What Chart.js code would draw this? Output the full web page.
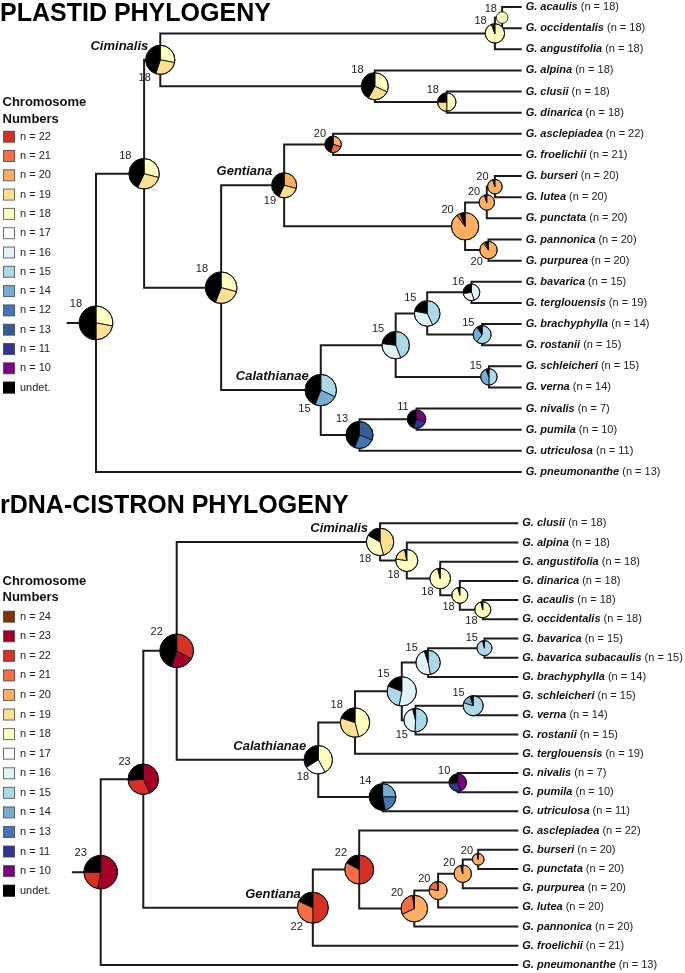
<!DOCTYPE html>
<html>
<head>
<meta charset="utf-8">
<script src="https://cdn.jsdelivr.net/npm/chart.js@4.4.1/dist/chart.umd.min.js"></script>
<style>
  html, body { margin: 0; padding: 0; background: #ffffff; }
  #wrap { position: relative; width: 685px; height: 973px; overflow: hidden; background: #fff; }
  canvas { position: absolute; left: 0; display: block; }
  #c1 { top: 0; }
  #c2 { top: 485px; }
</style>
</head>
<body>
<div id="wrap">
  <canvas id="c1" width="685" height="485"></canvas>
  <canvas id="c2" width="685" height="488"></canvas>
</div>
<script>
// ---------------- DATA: PLASTID PHYLOGENY ----------------
const plastidTitle = 'PLASTID PHYLOGENY';
const plastidTips = ['G. acaulis','G. occidentalis','G. angustifolia','G. alpina','G. clusii','G. dinarica',
  'G. asclepiadea','G. froelichii','G. burseri','G. lutea','G. punctata','G. pannonica','G. purpurea',
  'G. bavarica','G. terglouensis','G. brachyphylla','G. rostanii','G. schleicheri','G. verna',
  'G. nivalis','G. pumila','G. utriculosa','G. pneumonanthe'];
const plastidTipN = [18,18,18,18,18,18,22,21,20,20,20,20,20,15,19,14,15,15,14,7,10,11,13];
const plastidNodeIds = ['root','N1','Cim','Cim2','Aca','A1','A2','N2','Gen','G20a','G20b','G20c','G20e','G20d',
  'Cal','C15','C15b','C16','C15d','C15c','C13','C11'];
const plastidNodeChildren = [['N1',22],['Cim','N2'],['Cim2','A1'],['Aca',2],[0,1],[3,'A2'],[4,5],['Gen','Cal'],
  ['G20a','G20b'],[6,7],['G20c','G20d'],['G20e',10],[8,9],[11,12],
  ['C15','C13'],['C15b','C15c'],['C16','C15d'],[13,14],[15,16],[17,18],['C11',21],[19,20]];
const plastidNodeDepth = [0,0.113,0.151,0.937,0.954,0.655,0.824,0.294,0.442,0.557,0.867,0.918,0.937,0.922,
  0.528,0.704,0.778,0.882,0.907,0.923,0.619,0.753];
const plastidRootEdge = -0.069;
const plastidNodeState = [18,18,18,18,18,18,18,18,19,20,20,20,20,20,15,15,15,16,15,15,13,11];
// ancestral state probabilities, clockwise from 12 o'clock ('u' = undetermined)
const plastidNodeProbs = [
  [[18,0.28],[19,0.22],['u',0.50]],
  [[18,0.29],[19,0.28],['u',0.43]],
  [[18,0.28],[19,0.27],['u',0.45]],
  [[18,0.94],[19,0.02],['u',0.04]],
  [[18,1.00]],
  [[18,0.32],[19,0.26],['u',0.42]],
  [[18,0.50],[19,0.25],['u',0.25]],
  [[18,0.29],[19,0.27],['u',0.44]],
  [[20,0.29],[19,0.28],['u',0.43]],
  [[20,0.30],[21,0.25],['u',0.45]],
  [[20,0.90],[21,0.04],['u',0.06]],
  [[20,0.95],['u',0.05]],
  [[20,0.95],['u',0.05]],
  [[20,0.90],[21,0.04],['u',0.06]],
  [[15,0.32],[14,0.24],['u',0.44]],
  [[15,0.44],[16,0.33],['u',0.23]],
  [[15,0.43],[16,0.35],['u',0.22]],
  [[16,0.45],[17,0.28],['u',0.27]],
  [[15,0.60],[14,0.30],['u',0.10]],
  [[15,0.50],[14,0.44],['u',0.06]],
  [[13,0.31],[12,0.25],['u',0.44]],
  [[10,0.30],[11,0.26],['u',0.44]]
];
const plastidCladeNodes = ['Cim','Gen','Cal'];
const plastidCladeNames = ['Ciminalis','Gentiana','Calathianae'];
const plastidLegendStates = [22,21,20,19,18,17,16,15,14,12,13,11,10,'u'];

// ---------------- DATA: rDNA-CISTRON PHYLOGENY ----------------
const rdnaTitle = 'rDNA-CISTRON PHYLOGENY';
const rdnaTips = ['G. clusii','G. alpina','G. angustifolia','G. dinarica','G. acaulis','G. occidentalis',
  'G. bavarica','G. bavarica subacaulis','G. brachyphylla','G. schleicheri','G. verna','G. rostanii',
  'G. terglouensis','G. nivalis','G. pumila','G. utriculosa','G. asclepiadea','G. burseri','G. punctata',
  'G. purpurea','G. lutea','G. pannonica','G. froelichii','G. pneumonanthe'];
const rdnaTipN = [18,18,18,18,18,18,15,15,14,15,14,15,19,7,10,11,22,20,20,20,20,20,21,13];
const rdnaNodeIds = ['root','N23','N22','Cim','C2','C3','C4','C5','Cal','N18','B15','B15a','B15bav','B15r','B15sv',
  'N14','N10','Gen','N22b','P20a','P20b','P20c','P20d'];
const rdnaNodeChildren = [['N23',23],['N22','Gen'],['Cim','Cal'],[0,'C2'],[1,'C3'],[2,'C4'],[3,'C5'],[4,5],
  ['N18','N14'],['B15',12],['B15a','B15r'],['B15bav',8],[6,7],['B15sv',11],[9,10],
  ['N10',15],[13,14],['N22b',22],[16,'P20a'],['P20b',21],['P20c',20],['P20d',19],[17,18]];
const rdnaNodeDepth = [0,0.102,0.182,0.669,0.733,0.813,0.860,0.915,0.521,0.609,0.721,0.784,0.919,0.754,0.892,
  0.675,0.855,0.508,0.619,0.751,0.808,0.867,0.904];
const rdnaRootEdge = -0.069;
const rdnaNodeState = [23,23,22,18,18,18,18,18,18,18,15,15,15,15,15,14,10,22,22,20,20,20,20];
const rdnaNodeProbs = [
  [[23,0.53],[22,0.22],['u',0.25]],
  [[23,0.43],[22,0.31],['u',0.26]],
  [[22,0.33],[23,0.22],['u',0.45]],
  [[19,0.46],[18,0.37],['u',0.17]],
  [[18,0.77],[19,0.20],['u',0.03]],
  [[18,0.96],['u',0.04]],
  [[18,0.96],['u',0.04]],
  [[18,0.96],['u',0.04]],
  [[18,0.42],[17,0.24],['u',0.34]],
  [[18,0.46],[19,0.34],['u',0.20]],
  [[16,0.53],[15,0.28],['u',0.19]],
  [[15,0.47],[16,0.48],['u',0.05]],
  [[15,0.96],['u',0.04]],
  [[15,0.51],[16,0.45],['u',0.04]],
  [[15,0.80],[14,0.15],['u',0.05]],
  [[14,0.25],[13,0.22],['u',0.53]],
  [[10,0.45],[11,0.28],['u',0.27]],
  [[22,0.50],[21,0.32],['u',0.18]],
  [[22,0.50],[21,0.33],['u',0.17]],
  [[20,0.68],[21,0.30],['u',0.02]],
  [[20,0.78],[21,0.20],['u',0.02]],
  [[20,0.96],['u',0.04]],
  [[20,0.97],['u',0.03]]
];
const rdnaCladeNodes = ['Cim','Cal','Gen'];
const rdnaCladeNames = ['Ciminalis','Calathianae','Gentiana'];
const rdnaLegendStates = [24,23,22,21,20,19,18,17,16,15,14,13,11,10,'u'];

// ---------------- STYLES ----------------
const FONT = '"Liberation Sans", Arial, Helvetica, sans-serif';
const plastidColors = {22:'#d73027',21:'#f46d43',20:'#fdae61',19:'#fee090',18:'#ffffbf',17:'#ffffff',16:'#e0f3f8',
  15:'#abd9e9',14:'#74add1',12:'#4575b4',13:'#345d95',11:'#313695',10:'#800080',u:'#000000'};
const rdnaColors = {24:'#7f3308',23:'#a50026',22:'#d73027',21:'#f46d43',20:'#fdae61',19:'#fee090',18:'#ffffbf',
  17:'#ffffff',16:'#e0f3f8',15:'#abd9e9',14:'#74add1',13:'#4575b4',11:'#313695',10:'#800080',u:'#000000'};
const plastidPieRadius = [16.8,15.2,14.6,9.7,5.8,13.5,9.2,15.8,12.5,8.2,13.7,7.7,7.3,8.7,15.7,13.7,12.8,8.3,9,8.2,13.5,9.2];
const plastidLabelSide = ['a','a','b','a','a','a','a','a','b','a','a','a','a','b','b','a','a','a','a','a','a','a'];
const rdnaPieRadius = [16.7,15.2,16.7,13.7,11,10.3,8,8,14.2,14.7,14.7,12.2,7.5,11.7,10,13.3,8.7,15.5,14.5,13.3,9,8.7,5.8];
const rdnaLabelSide = ['a','a','a','b','b','b','b','b','b','a','a','a','a','b','a','a','a','b','a','a','a','a','a'];

const plastidLayout = { padding: {left: 96, right: 163.3, top: 7, bottom: 13},
  titleY: 21, legendTitleY: [102.7, 119.3], legendY0: 136.7, legendStep: 19.3 };
const rdnaLayout = { padding: {left: 100.7, right: 166.7, top: 38.3, bottom: 8},
  titleY: 28.3, legendTitleY: [96, 112.7], legendY0: 131.7, legendStep: 19.57 };

function buildTree(t) {
  const idx = {};
  t.ids.forEach((id, i) => idx[id] = i);
  const yCache = {};
  function yOf(c) {
    if (typeof c === 'number') return c;
    if (yCache[c] !== undefined) return yCache[c];
    const ch = t.children[idx[c]];
    const v = ch.reduce((s, k) => s + yOf(k), 0) / ch.length;
    yCache[c] = v; return v;
  }
  function xOf(c) { return typeof c === 'number' ? 1 : t.depth[idx[c]]; }
  const pts = [];
  // root edge
  pts.push({x: t.rootEdge, y: yOf('root')}, {x: 0, y: yOf('root')}, {x: 0, y: null});
  t.ids.forEach((id, i) => {
    const px = t.depth[i], py = yOf(id);
    t.children[i].forEach(c => {
      pts.push({x: px, y: py}, {x: px, y: yOf(c)}, {x: xOf(c), y: yOf(c)}, {x: px, y: null});
    });
  });
  return { idx, yOf, pts };
}

function makeChart(canvasId, t) {
  const tree = buildTree(t);
  const nTips = t.tips.length;
  const plugin = {
    id: 'treeDecor',
    afterDatasetsDraw(chart) {
      const ctx = chart.ctx, xs = chart.scales.x, ys = chart.scales.y;
      ctx.save();
      // pies
      t.ids.forEach((id, i) => {
        const cx = xs.getPixelForValue(t.depth[i]);
        const cy = ys.getPixelForValue(tree.yOf(id));
        const r = t.radius[i];
        const slices = t.probs[i];
        let a = -Math.PI / 2;
        ctx.lineWidth = 0.9; ctx.strokeStyle = '#111';
        if (slices.length === 1) {
          ctx.beginPath(); ctx.arc(cx, cy, r, 0, Math.PI * 2);
          ctx.fillStyle = t.colors[slices[0][0]]; ctx.fill();
        } else {
          slices.forEach(([s, f]) => {
            const a2 = a + f * Math.PI * 2;
            ctx.beginPath(); ctx.moveTo(cx, cy); ctx.arc(cx, cy, r, a, a2); ctx.closePath();
            ctx.fillStyle = t.colors[s]; ctx.fill(); ctx.stroke();
            a = a2;
          });
        }
        ctx.beginPath(); ctx.arc(cx, cy, r, 0, Math.PI * 2); ctx.stroke();
        // node state label
        ctx.font = '11px ' + FONT; ctx.fillStyle = '#222'; ctx.textAlign = 'right'; ctx.textBaseline = 'middle';
        if (t.side[i] === 'a') ctx.fillText(String(t.state[i]), cx - 0.8 * r - 0.5, cy - r - 2.5);
        else ctx.fillText(String(t.state[i]), cx - 0.65 * r, cy + r + 3.5);
      });
      // clade names
      ctx.font = 'italic bold 13px ' + FONT; ctx.fillStyle = '#111'; ctx.textAlign = 'right'; ctx.textBaseline = 'alphabetic';
      t.cladeNodes.forEach((id, k) => {
        const i = tree.idx[id];
        const cx = xs.getPixelForValue(t.depth[i]);
        const cy = ys.getPixelForValue(tree.yOf(id));
        ctx.fillText(t.cladeNames[k], cx - 12, cy - 10);
      });
      // tip labels
      ctx.textAlign = 'left'; ctx.textBaseline = 'middle';
      const tx = xs.getPixelForValue(1) + 4;
      t.tips.forEach((name, i) => {
        const ty = ys.getPixelForValue(i);
        ctx.font = 'italic bold 11px ' + FONT; ctx.fillStyle = '#111';
        ctx.fillText(name, tx, ty);
        const w = ctx.measureText(name).width;
        ctx.font = '11px ' + FONT; ctx.fillStyle = '#222';
        ctx.fillText(' (n = ' + t.tipN[i] + ')', tx + w, ty);
      });
      // title
      ctx.font = 'bold 25px ' + FONT; ctx.fillStyle = '#000'; ctx.textAlign = 'left'; ctx.textBaseline = 'alphabetic';
      ctx.fillText(t.title, 0, t.layout.titleY);
      // legend
      ctx.font = 'bold 13px ' + FONT; ctx.fillStyle = '#111'; ctx.textBaseline = 'middle';
      ctx.fillText('Chromosome', 2.5, t.layout.legendTitleY[0]);
      ctx.fillText('Numbers', 2.5, t.layout.legendTitleY[1]);
      t.legend.forEach((s, k) => {
        const y = t.layout.legendY0 + k * t.layout.legendStep;
        ctx.fillStyle = t.colors[s];
        ctx.fillRect(3.5, y - 5.5, 11, 11);
        ctx.lineWidth = 1; ctx.strokeStyle = s === 'u' ? '#000' : 'rgba(60,60,60,0.75)';
        ctx.strokeRect(3.5, y - 5.5, 11, 11);
        ctx.font = '11px ' + FONT; ctx.fillStyle = '#222';
        ctx.fillText(s === 'u' ? 'undet.' : 'n = ' + s, 20, y);
      });
      ctx.restore();
    }
  };
  return new Chart(document.getElementById(canvasId), {
    type: 'line',
    data: { datasets: [{
      data: tree.pts, borderColor: '#1c1c1c', borderWidth: 2, pointRadius: 0, pointHoverRadius: 0,
      spanGaps: false, tension: 0, fill: false, clip: false,
      borderCapStyle: 'butt', borderJoinStyle: 'miter'
    }]},
    options: {
      responsive: false, maintainAspectRatio: false, animation: false, events: [],
      layout: { padding: t.layout.padding },
      scales: {
        x: { type: 'linear', min: 0, max: 1, display: false },
        y: { type: 'linear', min: 0, max: nTips - 1, reverse: true, display: false }
      },
      plugins: { legend: { display: false }, tooltip: { enabled: false }, title: { display: false } }
    },
    plugins: [plugin]
  });
}

makeChart('c1', { title: plastidTitle, tips: plastidTips, tipN: plastidTipN, ids: plastidNodeIds,
  children: plastidNodeChildren, depth: plastidNodeDepth, rootEdge: plastidRootEdge, state: plastidNodeState,
  probs: plastidNodeProbs, cladeNodes: plastidCladeNodes, cladeNames: plastidCladeNames, legend: plastidLegendStates,
  colors: plastidColors, radius: plastidPieRadius, side: plastidLabelSide, layout: plastidLayout });
makeChart('c2', { title: rdnaTitle, tips: rdnaTips, tipN: rdnaTipN, ids: rdnaNodeIds,
  children: rdnaNodeChildren, depth: rdnaNodeDepth, rootEdge: rdnaRootEdge, state: rdnaNodeState,
  probs: rdnaNodeProbs, cladeNodes: rdnaCladeNodes, cladeNames: rdnaCladeNames, legend: rdnaLegendStates,
  colors: rdnaColors, radius: rdnaPieRadius, side: rdnaLabelSide, layout: rdnaLayout });
</script>
</body>
</html>
